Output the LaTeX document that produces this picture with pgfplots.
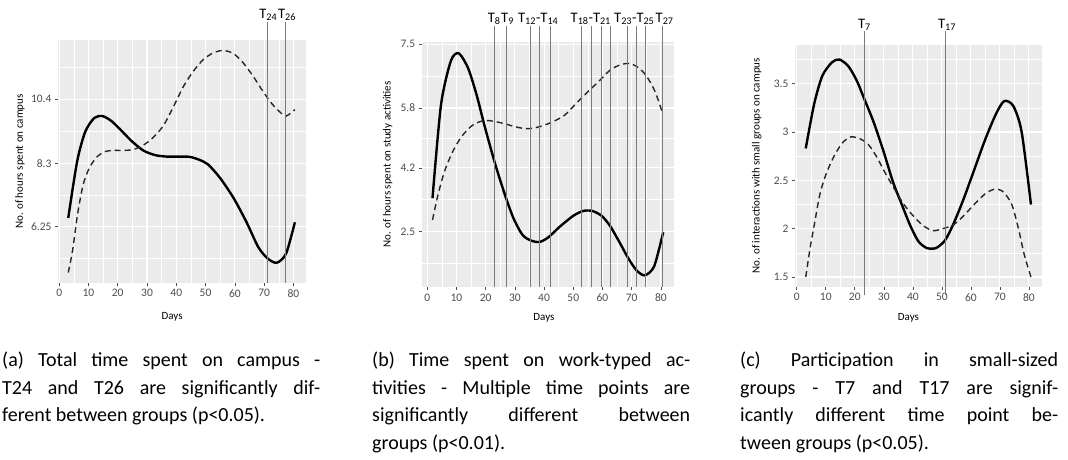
\documentclass[border=0pt]{standalone}
\usepackage{fontspec}
\setmainfont{Carlito}
\usepackage{pgfplots}
\pgfplotsset{compat=1.18}
\definecolor{panel}{HTML}{EBEBEB}
\definecolor{ticktxt}{HTML}{4D4D4D}
\definecolor{vline}{HTML}{7A7A7A}

\pgfplotsset{gg/.style={
  scale only axis, anchor=south west,
  axis background/.style={fill=panel},
  axis line style={draw=none},
  tick pos=left, tick align=outside,
  major tick length=3pt, minor tick length=0pt,
  tick style={ticktxt, line width=0.6pt},
  grid=both,
  major grid style={white, line width=1.1pt},
  minor grid style={white, line width=0.5pt},
  xtick={0,10,20,30,40,50,60,70,80},
  xticklabels={0,10,20,30,40,50,60,70,80},
  minor xtick={5,15,25,35,45,55,65,75},
  ticklabel style={font=\fontsize{11.5}{12}\selectfont, text=ticktxt},
  label style={font=\fontsize{11}{12}\selectfont},
  xlabel={Days},
  clip=false,
  no markers,
},
solidline/.style={black, line width=2.4pt, smooth, tension=0.45},
dashline/.style={black!85, line width=1.4pt, dash pattern=on 6pt off 4pt, smooth, tension=0.45},
}
\tikzset{tlab/.style={anchor=south, inner sep=1pt, font=\fontsize{14.5}{14.5}\selectfont}}

\begin{document}
\begin{tikzpicture}
\useasboundingbox (0,0) rectangle (1068pt,459pt);

% ---------------- (a)
\begin{axis}[gg, at={(58pt,176pt)}, width=248pt, height=243pt,
  xmin=-0.4, xmax=84.3, ymin=4.41, ymax=12.33,
  ytick={6.25,8.3,10.4}, yticklabels={6.25,8.3,10.4},
  minor ytick={5.225,7.275,9.35,11.45},
  ylabel={No. of hours spent on campus},
  ylabel style={at={(axis description cs:-0.153,0.5)}, anchor=center},
  xlabel style={at={(axis description cs:0.46,-0.14)}, anchor=center}]
\addplot[solidline] coordinates {
(3.1,6.53) (6.15,8.38) (8.9,9.34) (12,9.79) (14.8,9.85) (17.7,9.70)
(20.7,9.43) (24.7,9.04) (28.7,8.73) (32.7,8.58) (36.7,8.53) (41.3,8.53)
(44.7,8.52) (48,8.42) (50.9,8.27) (54.9,7.84) (59.5,7.19) (64,6.39)
(68,5.58) (71.2,5.21) (74.3,5.07) (77.5,5.37) (80.5,6.39)};
\addplot[dashline] coordinates {
(3.1,4.75) (4.6,5.48) (6.3,6.66) (8.2,7.62) (10.3,8.16) (12.8,8.51)
(15.6,8.69) (18.5,8.73) (21.9,8.73) (25.3,8.76) (28.7,8.90) (32.1,9.15)
(35.6,9.54) (39,10.15) (42.4,10.81) (45.8,11.31) (49.2,11.69) (52.6,11.91)
(56,11.99) (59.5,11.89) (62.9,11.58) (66.3,11.14) (69.7,10.64) (72.6,10.26)
(75.4,9.98) (77.5,9.85) (80.5,10.06)};
\draw[vline, line width=0.7pt] (axis cs:71.1,4.41) -- (axis cs:71.1,12.93);
\draw[vline, line width=0.7pt] (axis cs:77.3,4.41) -- (axis cs:77.3,12.93);
\node[tlab] at (axis cs:71.4,12.93) {T\textsubscript{24}};
\node[tlab] at (axis cs:77.8,12.93) {T\textsubscript{26}};
\end{axis}

% ---------------- (b)
\begin{axis}[gg, at={(421.7pt,171.7pt)}, width=252.6pt, height=245.6pt,
  xmin=-1.9, xmax=84.6, ymin=1.01, ymax=7.57,
  ytick={2.5,4.2,5.8,7.5}, yticklabels={2.5,4.2,5.8,7.5},
  minor ytick={1.65,3.35,5.0,6.65},
  ylabel={No. of hours spent on study activities},
  ylabel style={at={(axis description cs:-0.135,0.5)}, anchor=center},
  xlabel style={at={(axis description cs:0.484,-0.124)}, anchor=center}]
\addplot[solidline] coordinates {
(1.8,3.39) (4.7,5.88) (8.1,7.06) (10.8,7.26) (14,6.86) (16.9,6.15)
(19.7,5.30) (23.2,4.32) (26.6,3.48) (29.5,2.86) (32.6,2.41) (35.5,2.26)
(38.4,2.22) (41.4,2.34) (45.4,2.63) (50,2.92) (53.4,3.05) (56.5,3.05)
(59.7,2.92) (62.6,2.65) (66,2.19) (68.8,1.79) (71.7,1.46) (74.5,1.33)
(77.7,1.57) (80.8,2.48)};
\addplot[dashline] coordinates {
(1.8,2.81) (3.8,3.52) (6.1,4.15) (8.9,4.66) (11.8,5.04) (15.2,5.32)
(18.6,5.45) (21.5,5.46) (26,5.39) (30,5.30) (33.4,5.25) (36.3,5.26)
(39.7,5.33) (43.2,5.44) (47.1,5.61) (51.1,5.93) (55.1,6.24) (58.6,6.50)
(62.6,6.81) (66,6.95) (69.2,6.99) (72.3,6.88) (75.1,6.65) (78,6.24)
(80.6,5.66)};
\draw[vline, line width=0.7pt] (axis cs:22.9,1.01) -- (axis cs:22.9,7.99);
\draw[vline, line width=0.7pt] (axis cs:27.2,1.01) -- (axis cs:27.2,7.99);
\draw[vline, line width=0.7pt] (axis cs:35.3,1.01) -- (axis cs:35.3,7.99);
\draw[vline, line width=0.7pt] (axis cs:38.4,1.01) -- (axis cs:38.4,7.99);
\draw[vline, line width=0.7pt] (axis cs:42.1,1.01) -- (axis cs:42.1,7.99);
\draw[vline, line width=0.7pt] (axis cs:52.7,1.01) -- (axis cs:52.7,7.99);
\draw[vline, line width=0.7pt] (axis cs:56.2,1.01) -- (axis cs:56.2,7.99);
\draw[vline, line width=0.7pt] (axis cs:59.5,1.01) -- (axis cs:59.5,7.99);
\draw[vline, line width=0.7pt] (axis cs:62.7,1.01) -- (axis cs:62.7,7.99);
\draw[vline, line width=0.7pt] (axis cs:68.5,1.01) -- (axis cs:68.5,7.99);
\draw[vline, line width=0.7pt] (axis cs:71.6,1.01) -- (axis cs:71.6,7.99);
\draw[vline, line width=0.7pt] (axis cs:74.7,1.01) -- (axis cs:74.7,7.99);
\draw[vline, line width=0.7pt] (axis cs:80.6,1.01) -- (axis cs:80.6,7.99);
\node[tlab] at (axis cs:22.9,7.99) {T\textsubscript{8}};
\node[tlab] at (axis cs:27.5,7.99) {T\textsubscript{9}};
\node[tlab] at (axis cs:38.0,7.99) {T\textsubscript{12}-T\textsubscript{14}};
\node[tlab] at (axis cs:56.0,7.99) {T\textsubscript{18}-T\textsubscript{21}};
\node[tlab] at (axis cs:70.9,7.99) {T\textsubscript{23}-T\textsubscript{25}};
\node[tlab] at (axis cs:81.3,7.99) {T\textsubscript{27}};
\end{axis}

% ---------------- (c)
\begin{axis}[gg, at={(795pt,172.3pt)}, width=246.7pt, height=241.7pt,
  xmin=-0.6, xmax=84.4, ymin=1.40, ymax=3.90,
  ytick={1.5,2,2.5,3,3.5}, yticklabels={1.5,2,2.5,3,3.5},
  minor ytick={1.75,2.25,2.75,3.25,3.75},
  ylabel={No. of interactions with small groups on campus},
  ylabel style={at={(axis description cs:-0.155,0.5)}, anchor=center},
  xlabel style={at={(axis description cs:0.46,-0.128)}, anchor=center}]
\addplot[solidline] coordinates {
(3.1,2.83) (6,3.29) (8.8,3.58) (12.1,3.72) (14.7,3.75) (17.8,3.68)
(20.7,3.53) (23.3,3.34) (26.4,3.11) (29.8,2.81) (33.2,2.48) (36.2,2.25)
(39,2.04) (41.9,1.87) (44.8,1.80) (48,1.80) (51.1,1.88) (54,2.05)
(57.4,2.30) (60.8,2.58) (64.9,2.92) (68.7,3.19) (71.5,3.32) (74.6,3.27)
(77.5,3.00) (80.7,2.25)};
\addplot[dashline] coordinates {
(3.1,1.50) (4.6,1.80) (6.1,2.05) (8,2.36) (10.3,2.58) (13.2,2.77)
(16.1,2.90) (18.7,2.95) (21.8,2.93) (24.7,2.87) (27.6,2.74) (30.4,2.58)
(33.3,2.43) (36.7,2.26) (40.2,2.13) (43.6,2.03) (47,1.98) (50.3,2.00)
(54,2.04) (57.4,2.13) (60.8,2.24) (64.9,2.36) (68.3,2.41) (71.2,2.38)
(74.1,2.25) (76.4,2.00) (78.4,1.73) (80.7,1.50)};
\draw[vline, line width=0.7pt] (axis cs:23.3,1.31) -- (axis cs:23.3,4.04);
\draw[vline, line width=0.7pt] (axis cs:51.2,1.31) -- (axis cs:51.2,4.04);
\node[tlab] at (axis cs:23.3,4.04) {T\textsubscript{7}};
\node[tlab] at (axis cs:51.8,4.04) {T\textsubscript{17}};
\end{axis}

% ---------------- captions
\begin{scope}[every node/.style={anchor=north west, inner sep=0pt, text width=318pt, align=justify, font=\fontsize{20}{27.5}\selectfont}]
\node at (2pt,107pt) {\tolerance=10000 (a) Total time spent on campus -\linebreak T24 and T26 are significantly dif-\linebreak ferent between groups (p<0.05).};
\node at (372pt,107pt) {\tolerance=10000 (b) Time spent on work-typed ac-\linebreak tivities - Multiple time points are\linebreak significantly different between\linebreak groups (p<0.01).};
\node at (740pt,107pt) {\tolerance=10000 (c) Participation in small-sized\linebreak groups - T7 and T17 are signif-\linebreak icantly different time point be-\linebreak tween groups (p<0.05).};
\end{scope}
\end{tikzpicture}
\end{document}
